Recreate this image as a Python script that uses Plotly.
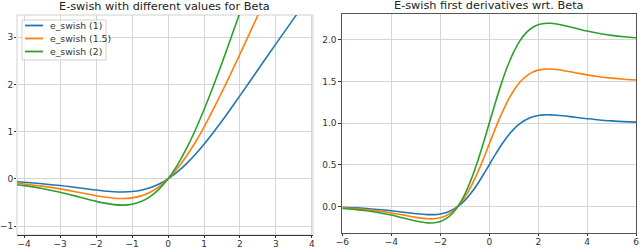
import plotly.graph_objects as go

# Left panel: e_swish(x) for beta = 1, 1.5, 2
x_left = [-4.2, -4, -3.5, -3, -2.5, -2, -1.5, -1.25, -1, -0.75, -0.5, -0.25, 0,
          0.25, 0.5, 0.75, 1, 1.5, 2, 2.5, 3, 3.5, 4]
swish_1 = [-0.062, -0.072, -0.103, -0.142, -0.190, -0.238, -0.274, -0.278, -0.269,
           -0.241, -0.189, -0.110, 0.0, 0.141, 0.311, 0.509, 0.731, 1.226, 1.762,
           2.310, 2.858, 3.398, 3.928]
swish_15 = [-0.093, -0.108, -0.154, -0.213, -0.284, -0.358, -0.410, -0.418, -0.403,
            -0.361, -0.283, -0.164, 0.0, 0.211, 0.467, 0.764, 1.097, 1.840, 2.642,
            3.466, 4.287, 5.096, 5.892]
swish_2 = [-0.124, -0.144, -0.205, -0.285, -0.379, -0.477, -0.547, -0.557, -0.538,
           -0.481, -0.378, -0.219, 0.0, 0.281, 0.622, 1.019, 1.462, 2.453, 3.523,
           4.621, 5.715, 6.795, 7.856]

# Right panel: first derivatives
x_right = [-6, -5.5, -5, -4.5, -4, -3.5, -3, -2.5, -2.25, -2, -1.75, -1.5, -1.25, -1,
           -0.75, -0.5, -0.25, 0, 0.25, 0.5, 0.75, 1, 1.25, 1.5, 1.75, 2, 2.25, 2.5,
           2.75, 3, 3.5, 4, 4.5, 5, 5.5, 6]
deriv_1 = [-0.012, -0.018, -0.027, -0.038, -0.053, -0.070, -0.088, -0.099, -0.099,
           -0.091, -0.073, -0.041, 0.006, 0.072, 0.157, 0.260, 0.376, 0.500, 0.624,
           0.740, 0.843, 0.928, 0.994, 1.041, 1.073, 1.091, 1.099, 1.099, 1.095,
           1.088, 1.070, 1.053, 1.038, 1.027, 1.018, 1.012]
deriv_15 = [-0.018, -0.027, -0.040, -0.057, -0.079, -0.105, -0.132, -0.149, -0.148,
            -0.136, -0.109, -0.062, 0.009, 0.108, 0.236, 0.390, 0.564, 0.750, 0.936,
            1.110, 1.264, 1.392, 1.491, 1.562, 1.609, 1.636, 1.648, 1.649, 1.643,
            1.632, 1.605, 1.579, 1.557, 1.540, 1.527, 1.518]
deriv_2 = [-0.025, -0.036, -0.053, -0.076, -0.105, -0.141, -0.176, -0.199, -0.197,
           -0.182, -0.145, -0.083, 0.013, 0.145, 0.315, 0.520, 0.753, 1.000, 1.247,
           1.480, 1.685, 1.855, 1.987, 2.083, 2.145, 2.182, 2.197, 2.199, 2.190,
           2.176, 2.141, 2.105, 2.076, 2.053, 2.036, 2.025]

names = ["e_swish (1)", "e_swish (1.5)", "e_swish (2)"]
colors = ["#1f77b4", "#ff7f0e", "#2ca02c"]
titles = ["E-swish with different values for Beta", "E-swish first derivatives wrt. Beta"]

left_xticks = [-4, -3, -2, -1, 0, 1, 2, 3, 4]
left_yticks = [-1, 0, 1, 2, 3]
right_xticks = [-6, -4, -2, 0, 2, 4, 6]
right_yticks = [0.0, 0.5, 1.0, 1.5, 2.0]

FONT = "DejaVu Sans"
W, H = 640, 248


def lab(v):
    return ("\u2212" + str(-v)) if v < 0 else str(v)


fig = go.Figure()
for ys, nm, c in zip([swish_1, swish_15, swish_2], names, colors):
    fig.add_trace(go.Scatter(x=x_left, y=ys, mode="lines", name=nm,
                             line=dict(color=c, width=1.6, shape="spline"),
                             xaxis="x", yaxis="y", showlegend=False))
for ys, nm, c in zip([deriv_1, deriv_15, deriv_2], names, colors):
    fig.add_trace(go.Scatter(x=x_right, y=ys, mode="lines", name=nm,
                             line=dict(color=c, width=1.6, shape="spline"),
                             xaxis="x2", yaxis="y2", showlegend=False))

grid = "#d5d5d5"
tickfont = dict(family=FONT, size=9, color="#333333")
common = dict(showgrid=True, gridcolor=grid, gridwidth=1, zeroline=False,
              ticks="outside", tickcolor="#333333", tickfont=tickfont,
              automargin=False)

# Legend drawn as a small box in the top-left of the left panel
leg_box = dict(x0=22, x1=106, y0=20, y1=60)
leg_rows = [25.5, 38.5, 51.5]
shapes = [dict(type="rect", xref="x domain", yref="y domain", x0=0, x1=1, y0=0, y1=1,
               line=dict(color="#d0d0d0", width=1), layer="below"),
          dict(type="rect", xref="paper", yref="paper",
               x0=leg_box["x0"] / W, x1=leg_box["x1"] / W,
               y0=1 - leg_box["y1"] / H, y1=1 - leg_box["y0"] / H,
               line=dict(color="#d0d0d0", width=1), fillcolor="rgba(255,255,255,0.85)",
               layer="above")]
annotations = []
for nm, c, ry in zip(names, colors, leg_rows):
    shapes.append(dict(type="line", xref="paper", yref="paper", x0=25 / W, x1=43 / W,
                       y0=1 - ry / H, y1=1 - ry / H, line=dict(color=c, width=1.8),
                       layer="above"))
    annotations.append(dict(text=nm, x=48 / W, y=1 - ry / H, xref="paper", yref="paper",
                            showarrow=False, xanchor="left", yanchor="middle",
                            font=dict(family=FONT, size=9.3, color="#333333")))

annotations += [
    dict(text=titles[0], x=(0.0266 + 0.489) / 2, y=1 - 7 / H, xref="paper",
         yref="paper", showarrow=False, xanchor="center", yanchor="middle",
         font=dict(family=FONT, size=11.3, color="#222222")),
    dict(text=titles[1], x=(0.535 + 0.994) / 2, y=1 - 6 / H, xref="paper",
         yref="paper", showarrow=False, xanchor="center", yanchor="middle",
         font=dict(family=FONT, size=11.3, color="#222222")),
]

fig.update_layout(
    width=W, height=H,
    margin=dict(l=0, r=0, t=0, b=0),
    paper_bgcolor="white", plot_bgcolor="white",
    font=dict(family=FONT, size=9, color="#333333"),
    showlegend=False,
    xaxis=dict(domain=[0.0266, 0.489], range=[-4.2, 4.03], tickvals=left_xticks,
               ticktext=[lab(v) for v in left_xticks], ticklen=2, ticklabelstandoff=-2,
               showline=True, linecolor="#333333", linewidth=1, anchor="y", **common),
    yaxis=dict(domain=[0.0524, 0.9395], range=[-1.19, 3.47], tickvals=left_yticks,
               ticktext=[lab(v) for v in left_yticks], ticklen=2, ticklabelstandoff=-1,
               showline=False, anchor="x", **common),
    xaxis2=dict(domain=[0.535, 0.994], range=[-6, 6], tickvals=right_xticks,
                ticktext=[lab(v) for v in right_xticks], ticklen=2, ticklabelstandoff=-2,
                showline=True, linecolor="#555555", linewidth=1, mirror=True,
                anchor="y2", **common),
    yaxis2=dict(domain=[0.0605, 0.9435], range=[-0.32, 2.31], tickvals=right_yticks,
                ticktext=["%.1f" % v for v in right_yticks], ticklen=3,
                showline=True, linecolor="#555555", linewidth=1, mirror=True,
                anchor="x2", **common),
    shapes=shapes,
    annotations=annotations,
)

fig.write_html("out.html", config={"displayModeBar": False},
               post_script="document.body.style.margin='0';document.body.style.padding='0';")
